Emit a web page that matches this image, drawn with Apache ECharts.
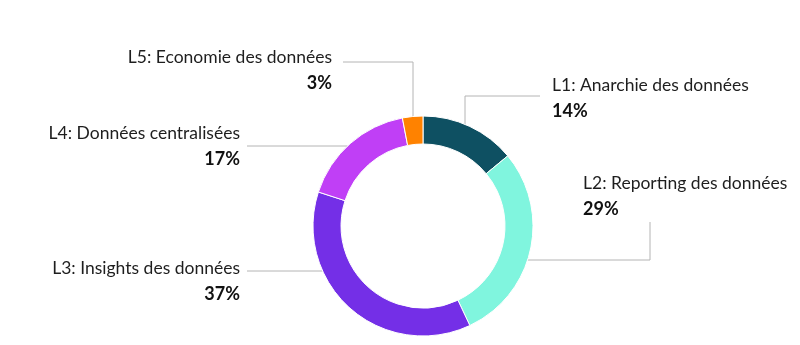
<!DOCTYPE html>
<html>
<head>
<meta charset="utf-8">
<script src="https://cdn.jsdelivr.net/npm/echarts@6/dist/echarts.min.js"></script>
<style>
  html, body { margin: 0; padding: 0; background: #ffffff; }
  #chart { width: 800px; height: 345px; }
</style>
</head>
<body>
<div id="chart"></div>
<script>
// Maturity levels and their share of respondents (%)
const categories = [
  'L1: Anarchie des données',
  'L2: Reporting des données',
  'L3: Insights des données',
  'L4: Données centralisées',
  'L5: Economie des données'
];
const shares = [14, 29, 37, 17, 3];
const colors = ['#0e5062', '#80f5de', '#742fe7', '#c03ff6', '#ff8200'];

// Ring geometry
const CX = 423, CY = 226, R_IN = 82, R_OUT = 110;

// Label placement: text anchor + leader line route.
// 'v' leaders leave the ring vertically at a given x, 'h' leaders horizontally at a given y.
const labelSpots = [
  { x: 552, y: 72,  align: 'left',  leader: { type: 'v', at: 465, side: -1, turnY: 96,  endX: 540 } },
  { x: 583, y: 170, align: 'left',  leader: { type: 'h', at: 260, side: 1,  turnX: 650, endY: 222 } },
  { x: 240, y: 255, align: 'right', leader: { type: 'h', at: 271, side: -1, endX: 247 } },
  { x: 240, y: 120, align: 'right', leader: { type: 'h', at: 146, side: -1, endX: 247 } },
  { x: 332, y: 44,  align: 'right', leader: { type: 'v', at: 413, side: -1, turnY: 62, endX: 343 } }
];

function leaderPoints(l) {
  if (l.type === 'v') {
    const dy = Math.sqrt(R_OUT * R_OUT - (l.at - CX) * (l.at - CX));
    const y0 = CY + l.side * dy;
    return [[l.at, y0], [l.at, l.turnY], [l.endX, l.turnY]];
  }
  const dx = Math.sqrt(R_OUT * R_OUT - (l.at - CY) * (l.at - CY));
  const x0 = CX + l.side * dx;
  const pts = [[x0, l.at]];
  if (l.turnX !== undefined) {
    pts.push([l.turnX, l.at], [l.turnX, l.endY]);
  } else {
    pts.push([l.endX, l.at]);
  }
  return pts;
}

const chart = echarts.init(document.getElementById('chart'), null, { renderer: 'canvas' });

chart.setOption({
  backgroundColor: '#ffffff',
  animation: false,
  series: [{
    type: 'pie',
    center: [CX, CY],
    radius: [R_IN, R_OUT],
    startAngle: 90,
    clockwise: true,
    avoidLabelOverlap: false,
    itemStyle: { borderColor: '#ffffff', borderWidth: 1 },
    label: {
      show: true,
      position: 'outside',
      formatter: p => '{n|' + p.name + '}\n{v|' + p.value + '%}',
      rich: {
        n: { fontFamily: 'Lato', fontSize: 17.5, color: '#1e1e1e', lineHeight: 26 },
        v: { fontFamily: 'Lato', fontSize: 18, fontWeight: 'bold', color: '#111111', lineHeight: 26 }
      }
    },
    labelLine: {
      show: true,
      length: 10,
      length2: 10,
      lineStyle: { color: '#b4b4b4', width: 1 }
    },
    labelLayout: function (params) {
      const s = labelSpots[params.dataIndex];
      return {
        x: s.x,
        y: s.y,
        align: s.align,
        verticalAlign: 'top',
        labelLinePoints: leaderPoints(s.leader)
      };
    },
    data: categories.map((name, i) => ({
      name: name,
      value: shares[i],
      itemStyle: { color: colors[i] },
      label: { align: labelSpots[i].align }
    }))
  }]
});
</script>
</body>
</html>
